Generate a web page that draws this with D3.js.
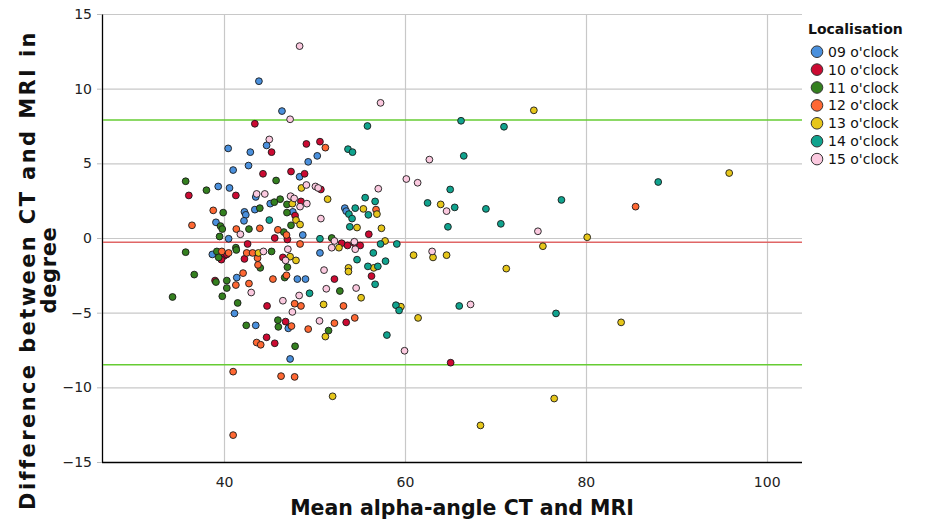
<!DOCTYPE html>
<html>
<head>
<meta charset="utf-8">
<script src="https://cdn.jsdelivr.net/npm/d3@7"></script>
<style>
  html, body { margin: 0; padding: 0; background: #fff; }
  svg { display: block; font-family: "DejaVu Sans", sans-serif; }
</style>
</head>
<body>
<div id="chart"></div>
<script>
const categories = ["09 o'clock", "10 o'clock", "11 o'clock", "12 o'clock", "13 o'clock", "14 o'clock", "15 o'clock"];
const colors = ["#4a90dd", "#cc0a32", "#34801f", "#ff6833", "#e6c61a", "#10a38e", "#fbc9df"];

// [mean alpha-angle, difference CT - MRI]
const loc09 = [[43.85,10.5],[46.4,8.5],[44.7,6.2],[40.45,6.0],[42.9,5.75],[50.3,5.5],[49.3,5.1],[42.7,4.85],[41.0,4.55],[48.35,4.1],[39.35,3.45],[40.6,3.35],[43.5,2.75],[45.1,2.3],[53.35,2.0],[53.5,1.8],[42.25,1.75],[42.4,1.55],[43.4,1.9],[47.6,1.75],[42.2,1.15],[39.1,1.05],[48.7,0.2],[40.5,-0.05],[38.7,-1.1],[41.4,-2.65],[48.1,-2.75],[49.0,-2.75],[50.6,-1.0],[41.15,-5.05],[43.5,-5.85],[47.1,-6.05],[47.3,-8.1]];
const loc10 = [[43.4,7.65],[50.6,6.45],[49.1,6.3],[45.25,5.75],[44.3,4.3],[47.4,4.45],[48.9,4.3],[50.7,3.25],[36.1,2.85],[41.3,2.85],[48.5,2.45],[47.85,1.5],[56.0,0.25],[45.6,0.0],[47.0,-0.1],[42.6,-0.4],[53.0,-0.35],[53.65,-0.5],[54.4,-0.35],[55.05,-0.5],[40.0,-1.2],[39.7,-1.45],[40.3,-1.1],[42.25,-1.4],[46.5,-1.3],[52.2,-2.75],[56.3,-2.55],[39.0,-2.85],[44.75,-4.55],[46.8,-5.6],[53.5,-5.65],[44.7,-6.65],[45.6,-7.05],[65.05,-8.35]];
const loc11 = [[35.75,3.8],[45.75,3.85],[38.05,3.2],[46.2,2.6],[45.55,2.4],[46.95,2.25],[43.95,2.0],[39.9,1.7],[46.95,1.7],[39.6,0.8],[39.8,0.6],[42.75,0.6],[46.6,0.4],[47.4,0.85],[39.5,0.1],[51.9,0.0],[41.3,-0.65],[41.35,-0.8],[35.75,-0.95],[39.2,-0.9],[39.4,-1.3],[45.25,-0.9],[44.0,-2.0],[47.0,-1.95],[36.7,-2.45],[46.7,-2.65],[39.1,-2.95],[40.3,-2.85],[40.3,-3.35],[52.8,-3.55],[34.3,-3.95],[39.8,-3.9],[41.5,-4.35],[42.45,-5.85],[45.95,-5.5],[46.0,-5.95],[51.55,-6.2],[47.85,-7.25]];
const loc12 = [[51.2,6.05],[38.8,1.85],[56.8,1.9],[85.5,2.1],[36.45,0.85],[41.35,0.6],[43.95,0.65],[45.95,0.55],[46.9,0.2],[48.4,-0.4],[39.75,-0.9],[40.5,-1.0],[42.5,-1.0],[43.15,-1.0],[43.7,-1.35],[43.75,-1.8],[42.1,-2.35],[45.4,-2.75],[46.9,-2.5],[41.3,-3.15],[42.75,-3.05],[47.8,-4.4],[48.5,-4.55],[53.2,-4.55],[54.45,-5.35],[52.2,-5.7],[47.45,-5.9],[49.3,-6.1],[43.6,-7.0],[44.05,-7.15],[41.0,-8.95],[46.3,-9.25],[47.8,-9.3],[41.0,-13.2]];
const loc13 = [[74.25,8.55],[95.85,4.35],[48.55,3.35],[51.45,2.6],[47.55,2.3],[63.95,2.25],[55.4,1.95],[56.9,1.6],[47.95,1.2],[48.4,0.9],[54.7,0.7],[57.4,0.65],[80.15,0.05],[57.8,-0.2],[52.7,-0.65],[75.25,-0.55],[43.8,-1.0],[47.3,-1.25],[47.95,-1.5],[60.95,-1.15],[63.1,-1.3],[64.6,-1.15],[56.55,-2.0],[53.75,-2.0],[53.75,-2.25],[71.2,-2.05],[55.15,-4.0],[51.0,-4.45],[59.55,-4.6],[61.45,-5.35],[83.9,-5.65],[51.2,-6.6],[52.0,-10.6],[76.5,-10.75],[68.35,-12.55]];
const loc14 = [[66.2,7.85],[55.85,7.5],[70.95,7.45],[53.7,5.95],[54.2,5.75],[66.5,5.5],[88.0,3.75],[65.0,3.25],[55.6,2.7],[77.3,2.55],[56.7,2.45],[62.5,2.35],[54.5,2.0],[65.5,2.05],[68.95,1.95],[53.8,1.6],[55.95,1.55],[54.15,1.3],[45.0,1.2],[70.6,0.95],[53.9,0.75],[64.75,0.75],[50.6,-0.05],[57.3,-0.4],[59.1,-0.4],[56.5,-1.0],[54.7,-1.45],[57.85,-1.55],[55.9,-1.9],[57.0,-1.9],[56.7,-3.1],[49.45,-3.7],[59.0,-4.5],[59.35,-4.85],[66.0,-4.55],[76.7,-5.05],[58.0,-6.5]];
const loc15 = [[48.35,12.85],[57.3,9.05],[47.3,7.95],[45.0,6.6],[62.7,5.25],[60.15,3.95],[61.4,3.7],[49.1,3.55],[50.1,3.45],[50.4,3.35],[57.05,3.3],[43.6,2.95],[44.5,2.95],[47.35,2.8],[47.75,2.65],[49.15,2.3],[48.4,2.1],[64.6,1.8],[50.7,1.3],[41.8,0.25],[74.7,0.45],[52.2,-0.2],[54.4,-0.25],[51.9,-0.65],[54.5,-0.75],[47.05,-0.75],[44.35,-0.9],[63.0,-0.9],[46.8,-1.5],[51.05,-2.15],[51.3,-3.4],[54.6,-3.35],[43.0,-3.65],[48.3,-3.85],[46.5,-4.2],[67.25,-4.45],[47.55,-4.95],[50.55,-5.55],[59.95,-7.55]];

const series = [loc09, loc10, loc11, loc12, loc13, loc14, loc15];

// mean difference and limits of agreement
const meanDiff = -0.29;
const limits = [7.9, -8.48];

const xTicks = [40, 60, 80, 100];
const yTicks = [-15, -10, -5, 0, 5, 10, 15];

const width = 925, height = 520;
const plot = { left: 102, right: 802, top: 14, bottom: 462 };

const x = d3.scaleLinear().domain([26.5, 103.9]).range([plot.left, plot.right]);
const y = d3.scaleLinear().domain([-15, 15]).range([plot.bottom, plot.top]);

const svg = d3.select("#chart").append("svg").attr("width", width).attr("height", height);

// grid
svg.append("g").selectAll("line").data(yTicks.filter((d) => d > -15)).join("line")
  .attr("x1", plot.left).attr("x2", plot.right)
  .attr("y1", (d) => y(d) + 0.5).attr("y2", (d) => y(d) + 0.5)
  .attr("stroke", "#c8c8c8").attr("stroke-width", 1.2);
svg.append("g").selectAll("line").data(xTicks).join("line")
  .attr("x1", (d) => Math.round(x(d)) + 0.5).attr("x2", (d) => Math.round(x(d)) + 0.5)
  .attr("y1", plot.top).attr("y2", plot.bottom)
  .attr("stroke", "#c8c8c8").attr("stroke-width", 1.2);

// axes
const fmt = (d) => (d < 0 ? "\u2212" + Math.abs(d) : String(d));
const yAxis = svg.append("g").attr("transform", `translate(${plot.left},0)`)
  .call(d3.axisLeft(y).tickValues(yTicks).tickFormat(fmt).tickSize(5).tickSizeOuter(0));
const xAxis = svg.append("g").attr("transform", `translate(0,${plot.bottom})`)
  .call(d3.axisBottom(x).tickValues(xTicks).tickFormat(fmt).tickSize(0).tickSizeOuter(0));
[yAxis, xAxis].forEach((g) => {
  g.select(".domain").attr("stroke", "#000").attr("stroke-width", 1.3);
  g.selectAll(".tick text").attr("font-size", 14).attr("fill", "#222").attr("font-family", "DejaVu Sans");
  g.selectAll(".tick line").attr("stroke", "#bbb");
});
yAxis.selectAll(".tick text").attr("x", -10);
xAxis.selectAll(".tick text").attr("dy", "1.55em");
xAxis.select(".domain").attr("d", `M${plot.left},0.5H${plot.right}`);

// reference lines
svg.append("g").selectAll("line").data(limits).join("line")
  .attr("x1", plot.left + 1).attr("x2", plot.right)
  .attr("y1", (d) => y(d)).attr("y2", (d) => y(d))
  .attr("stroke", "#66cc33").attr("stroke-width", 1.5);
svg.append("line")
  .attr("x1", plot.left + 1).attr("x2", plot.right)
  .attr("y1", y(meanDiff)).attr("y2", y(meanDiff))
  .attr("stroke", "#e06666").attr("stroke-width", 1.5);

// points
series.forEach((pts, i) => {
  svg.append("g").selectAll("circle").data(pts).join("circle")
    .attr("cx", (d) => x(d[0])).attr("cy", (d) => y(d[1])).attr("r", 3.4)
    .attr("fill", colors[i]).attr("stroke", "#1a1a1a").attr("stroke-width", 0.9);
});

// axis titles
svg.append("text").attr("x", (plot.left + plot.right) / 2 + 10).attr("y", 515)
  .attr("text-anchor", "middle").attr("font-size", 20.5).attr("font-weight", "bold").attr("fill", "#111")
  .text("Mean alpha-angle CT and MRI");
const yt = svg.append("text").attr("transform", "translate(35,270) rotate(-90)")
  .attr("text-anchor", "middle").attr("font-size", 21).attr("font-weight", "bold").attr("fill", "#111");
yt.append("tspan").attr("x", 0).attr("y", 0).attr("letter-spacing", 2.4).text("Difference between CT and MRI in");
yt.append("tspan").attr("x", 0).attr("y", 21).attr("letter-spacing", 0.6).text("degree");

// legend
const legend = svg.append("g").attr("transform", "translate(808,0)");
legend.append("text").attr("x", 0).attr("y", 34).attr("font-size", 14).attr("font-weight", "bold")
  .attr("fill", "#111").text("Localisation");
const item = legend.selectAll("g.item").data(categories).join("g").attr("class", "item")
  .attr("transform", (d, i) => `translate(0,${51.7 + i * 17.9})`);
item.append("circle").attr("cx", 9).attr("cy", 0).attr("r", 5.8)
  .attr("fill", (d, i) => colors[i]).attr("stroke", "#333").attr("stroke-width", 1);
item.append("text").attr("x", 20).attr("y", 5).attr("font-size", 14).attr("fill", "#111").text((d) => d);
</script>
</body>
</html>
